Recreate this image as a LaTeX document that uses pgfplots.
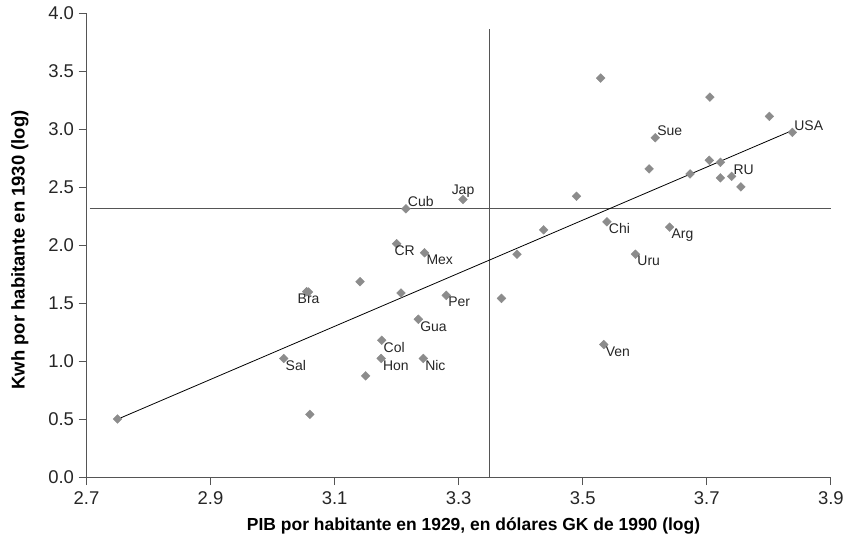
\documentclass[border=0pt]{standalone}
\usepackage{pgfplots}
\pgfplotsset{compat=1.18}
\usepackage{pgfplotstable}
\usepackage{fontspec}
\setmainfont{Liberation Sans}

\definecolor{mk}{HTML}{8C8C8C}
\definecolor{ax}{HTML}{555555}

% labelled points, grouped by where the label sits
\pgfplotstableread{
x     y     lab
3.245 1.935 Mex
3.280 1.568 Per
3.235 1.362 Gua
3.176 1.181 Col
3.018 1.024 Sal
3.175 1.024 Hon
3.243 1.024 Nic
3.539 2.202 Chi
3.640 2.156 Arg
3.585 1.923 Uru
3.534 1.144 Ven
}\labNW

\pgfplotstableread{
x     y     lab
3.200 2.013 CR
}\labCR

\pgfplotstableread{
x     y     lab
3.058 1.597 Bra
}\labN

\pgfplotstableread{
x     y     lab
3.215 2.314 Cub
3.617 2.927 Sue
3.838 2.973 USA
3.740 2.594 RU
}\labSW

\pgfplotstableread{
x     y     lab
3.307 2.394 Jap
}\labS

% points without a label
\pgfplotstableread{
x     y
3.141 1.686
3.055 1.600
3.207 1.588
3.150 0.874
3.060 0.542
2.750 0.502
3.529 3.441
3.705 3.277
3.801 3.111
3.607 2.658
3.704 2.732
3.722 2.715
3.673 2.615
3.722 2.581
3.755 2.503
3.490 2.422
3.437 2.133
3.394 1.923
3.369 1.542
}\others

\pgfplotsset{
  dots/.style={only marks, mark=square*, mark size=3.1pt,
    mark options={rotate=45, fill=mk, draw=mk}},
  named/.style={dots, point meta=explicit symbolic, nodes near coords,
    nodes near coords style={anchor=#1, font=\fontsize{14}{16}\selectfont,
      text=black!85, inner sep=1.8pt}},
}

\begin{document}
\begin{tikzpicture}
\begin{axis}[
    scale only axis,
    width=746pt, height=465pt,
    xmin=2.7, xmax=3.9, ymin=0, ymax=4,
    xtick={2.7,2.9,3.1,3.3,3.5,3.7,3.9},
    ytick={0,0.5,1,1.5,2,2.5,3,3.5,4},
    axis lines=left,
    axis line style={-, draw=ax, line width=1.1pt},
    tick style={draw=ax, line width=1.1pt},
    tick align=outside,
    major tick length=8pt,
    /pgf/number format/fixed,
    /pgf/number format/fixed zerofill,
    /pgf/number format/precision=1,
    /pgf/number format/assume math mode=true,
    xticklabel style={yshift=-3pt},
    yticklabel style={xshift=-1pt},
    ticklabel style={font=\fontsize{18.5}{20}\selectfont, text=black!85},
    xlabel={\textbf{PIB por habitante en 1929, en dólares GK de 1990 (log)}},
    ylabel={\textbf{Kwh por habitante en 1930 (log)}},
    xlabel style={font=\fontsize{17.5}{20}\selectfont,
        at={(axis description cs:0.52,-0.105)}, anchor=center},
    ylabel style={font=\fontsize{18.5}{21}\selectfont,
        at={(axis description cs:-0.0894,0.49)}, anchor=center},
    clip=false,
]
% reference lines
\addplot[draw=ax, line width=1pt] coordinates {(3.35,0) (3.35,3.862)};
\addplot[draw=ax, line width=1pt] coordinates {(2.705,2.318) (3.9,2.318)};
% fitted line
\addplot[black, line width=0.8pt] coordinates {(2.75,0.50) (3.838,2.990)};

\addplot[dots] table[x=x, y=y] {\others};
\addplot[named=north west] table[x=x, y=y, meta=lab] {\labNW};
\addplot[named=north west, nodes near coords style={xshift=-4pt}] table[x=x, y=y, meta=lab] {\labCR};
\addplot[named=north] table[x=x, y=y, meta=lab] {\labN};
\addplot[named=south west] table[x=x, y=y, meta=lab] {\labSW};
\addplot[named=south] table[x=x, y=y, meta=lab] {\labS};

\path (rel axis cs:-0.1162,-0.1499) rectangle (rel axis cs:1.0192,1.0286);
\end{axis}
\end{tikzpicture}
\end{document}
